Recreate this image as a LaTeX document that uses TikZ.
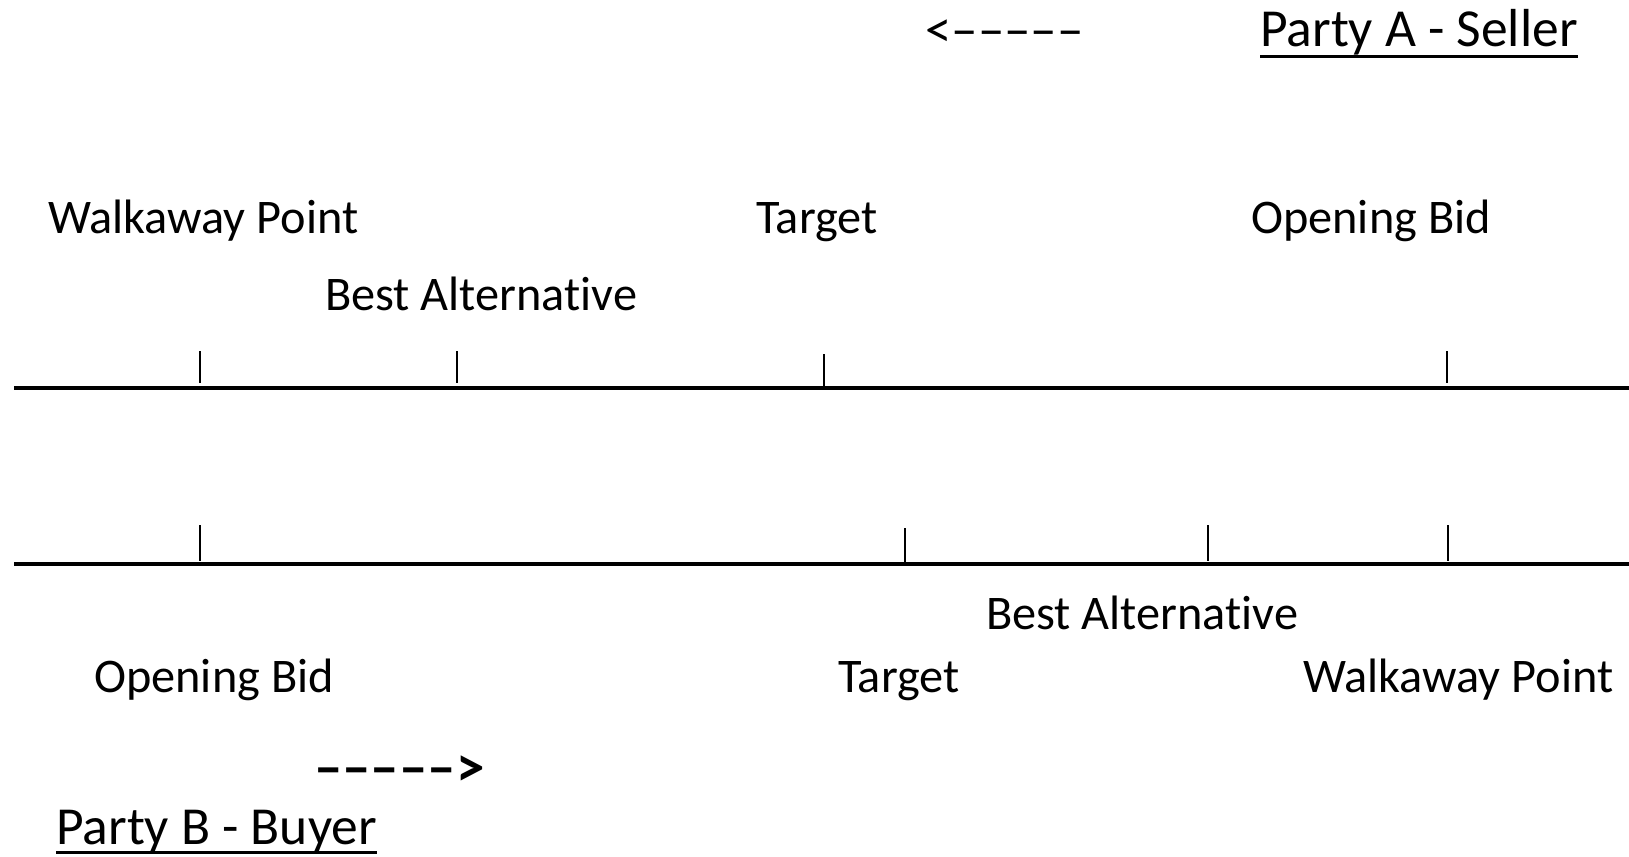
\documentclass[tikz,border=0pt]{standalone}
\usepackage{fontspec}
\setmainfont[Ligatures={NoCommon,NoRare}]{Carlito}
\usetikzlibrary{positioning}
\tikzstyle{lbl}=[anchor=base west,inner sep=0pt,font=\fontsize{48.3}{58}\selectfont]
\tikzstyle{party}=[anchor=base west,inner sep=0pt,font=\fontsize{53.5}{64}\selectfont]
\tikzstyle{axis}=[line width=3.5pt]
\tikzstyle{tick}=[line width=2.5pt]

\begin{document}
\begin{tikzpicture}[x=1pt,y=-1pt]
		\useasboundingbox (0,0) rectangle (1629,856);

		% seller side
		\node[lbl,font=\fontsize{53}{64}\selectfont] (arrA) at (925,48) {<–––––};
		\node[party] (partyA)  at (1260,47)  {Party A - Seller};
		\draw[axis,line width=3pt] ([yshift=-10pt]partyA.base west) -- ([yshift=-10pt]partyA.base east);

		\node[lbl]   (sWalk)   at (48,233)   {Walkaway Point};
		\node[lbl]   (sTarget) at (756,233)  {Target};
		\node[lbl]   (sOpen)   at (1251,233) {Opening Bid};
		\node[lbl]   (sBest)   at (325,310)  {Best Alternative};

		\coordinate (sL) at (14,388);
		\coordinate (sR) at (1629,388);
		\draw[axis] (sL) -- (sR);
		\draw[tick] (200,351) -- (200,383);
		\draw[tick] (457,351) -- (457,383);
		\draw[tick] (824,354) -- (824,387);
		\draw[tick] (1447,351) -- (1447,383);

		% buyer side
		\coordinate (bL) at (14,564);
		\coordinate (bR) at (1629,564);
		\draw[axis] (bL) -- (bR);
		\draw[tick] (200,525) -- (200,561);
		\draw[tick] (905,528) -- (905,564);
		\draw[tick] (1208,525) -- (1208,561);
		\draw[tick] (1448,525) -- (1448,561);

		\node[lbl]   (bBest)   at (986,629)  {Best Alternative};
		\node[lbl]   (bOpen)   at (94,692)   {Opening Bid};
		\node[lbl]   (bTarget) at (838,692)  {Target};
		\node[lbl]   (bWalk)   at (1303,692) {Walkaway Point};

		\node[lbl,font=\fontsize{57}{68}\selectfont\bfseries] (arrB) at (314,786) {–––––>};
		\node[party] (partyB)  at (56,844)   {Party B - Buyer};
		\draw[axis,line width=3pt] ([yshift=-8pt]partyB.base west) -- ([yshift=-8pt]partyB.base east);
\end{tikzpicture}
\end{document}
